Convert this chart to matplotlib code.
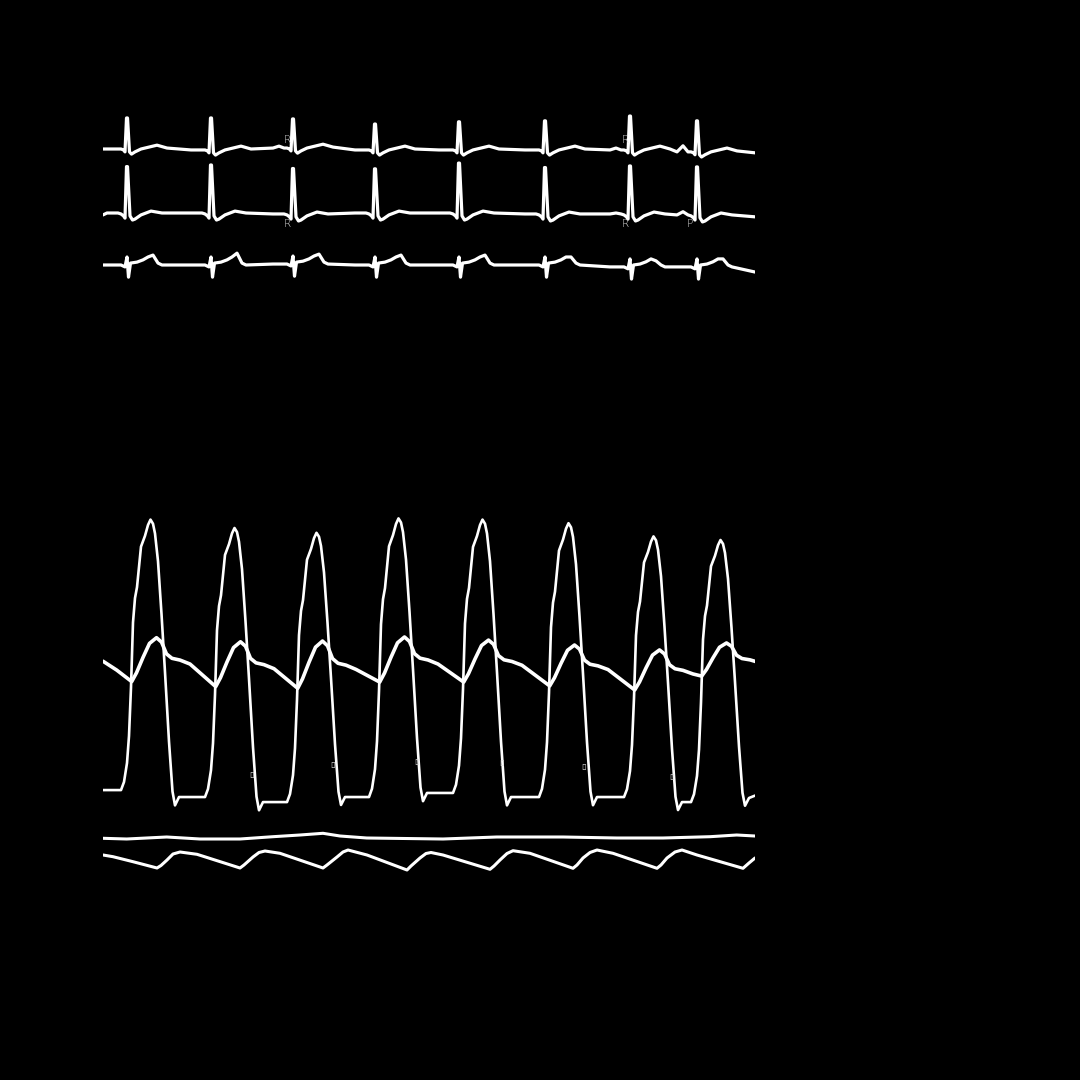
import matplotlib
matplotlib.use("Agg")
import matplotlib.pyplot as plt

# ---------------- data (time in s, ECG in mV, pressure in mmHg) ----------------
t_end = 6.52
r_times = [0.24, 1.08, 1.90, 2.72, 3.56, 4.42, 5.27, 5.94]

# ECG lead 1
ecg1_off = [-0.20, -0.14, -0.09, -0.06, -0.035, -0.02, -0.005, 0.005, 0.025, 0.045, 0.08, 0.14, 0.22, 0.30, 0.40]
ecg1_shape = [0.0, 0.0, 0.0, 0.0, -0.03, -0.09, 0.0, 0.0, -0.09, -0.16, -0.09, 0.0, 0.06, 0.12, 0.03]
ecg1_r = [0.97, 1.00, 0.91, 0.81, 0.88, 0.91, 1.06, 0.97]
ecg1_p = [0.0, 0.0, 0.06, 0.0, 0.0, 0.0, 0.06, 0.19]
ecg1_base = [0.0, -0.03, 0.03, -0.03, -0.03, -0.03, -0.03, -0.09]
ecg1_start, ecg1_stop = 0.0, -0.12

# ECG lead 2
ecg2_off = [-0.20, -0.14, -0.09, -0.06, -0.035, -0.02, -0.005, 0.005, 0.03, 0.055, 0.08, 0.14, 0.24, 0.35]
ecg2_shape = [0.0, 0.0, 0.0, -0.03, -0.09, -0.16, 0.0, 0.0, -0.09, -0.22, -0.19, -0.06, 0.06, 0.0]
ecg2_r = [1.45, 1.50, 1.42, 1.38, 1.56, 1.45, 1.50, 1.50]
ecg2_p = [0.0, 0.0, 0.0, 0.0, 0.0, 0.0, 0.03, 0.10]
ecg2_base = [0.0, 0.0, -0.03, 0.0, 0.0, -0.03, -0.03, -0.06]
ecg2_start, ecg2_stop = -0.06, -0.12

# ECG lead 3
ecg3_off = [-0.20, -0.06, -0.02, 0.0, 0.015, 0.035, 0.10, 0.16, 0.21, 0.26, 0.31, 0.35]
ecg3_shape = [0.0, 0.0, -0.06, 0.25, -0.38, 0.06, 0.09, 0.16, 0.25, 0.0, 0.06, 0.0]
ecg3_t = [0.31, 0.37, 0.31, 0.31, 0.31, 0.25, 0.19, 0.25]
ecg3_base = [0.0, 0.0, 0.03, 0.0, 0.0, 0.0, -0.06, -0.06]
ecg3_start, ecg3_stop = 0.0, -0.22

# Left-ventricular pressure (normalised beat shape + per-beat levels)
lv_off = [-0.06, -0.03, 0.0, 0.02, 0.04, 0.06, 0.08, 0.10, 0.14, 0.18, 0.21, 0.235,
          0.26, 0.28, 0.31, 0.345, 0.38, 0.42, 0.455, 0.48, 0.52]
lv_norm = [0.0, 0.03, 0.10, 0.2, 0.38, 0.62, 0.71, 0.75, 0.9, 0.94, 0.98, 1.0,
           0.985, 0.95, 0.85, 0.66, 0.45, 0.2, 0.02, -0.03, 0.0]
lv_peak = [121.0, 117.5, 115.5, 121.5, 121.0, 119.5, 114.0, 112.5]
lv_post = [5.4, 3.3, 5.4, 7.1, 5.4, 5.4, 3.3, 5.0]
lv_start, lv_stop = 8.3, 6.0

# Aortic pressure
ao_off = [0.047, 0.095, 0.16, 0.225, 0.295, 0.345, 0.395, 0.45, 0.53, 0.63]
ao_norm = [0.0, 0.2, 0.55, 0.87, 1.0, 0.9, 0.63, 0.53, 0.49, 0.40]
ao_min = [53.5, 51.4, 50.7, 53.3, 53.3, 51.7, 50.0, 55.8]
ao_peak = [71.8, 70.1, 70.4, 72.1, 70.8, 68.75, 66.7, 69.6]
ao_lead_t = [0.0, 0.137]
ao_lead_v = [62.0, 58.3]

# Small markers on the LV down-stroke
mark_t = [1.487, 2.30, 3.137, 3.987, 4.81, 5.687]
mark_v = [14.6, 18.75, 20.1, 19.6, 18.3, 13.9]

# Bottom channels (V)
flat_t = [0.0, 0.237, 0.637, 0.97, 1.37, 1.70, 1.97, 2.20, 2.37, 2.637, 3.40,
          3.937, 4.60, 5.137, 5.60, 6.07, 6.337, 6.52]
flat_v = [4.17, 4.1, 4.3, 4.1, 4.1, 4.33, 4.5, 4.67, 4.4, 4.2, 4.1,
          4.3, 4.3, 4.2, 4.2, 4.33, 4.5, 4.4]
saw_t = [0.00, 0.10, 0.30, 0.54, 0.58, 0.64, 0.70, 0.77, 0.94,
         1.37, 1.41, 1.50, 1.56, 1.62, 1.77,
         2.20, 2.24, 2.34, 2.40, 2.45, 2.64,
         3.04, 3.08, 3.17, 3.23, 3.28, 3.40,
         3.87, 3.91, 3.97, 4.04, 4.10, 4.27,
         4.70, 4.74, 4.80, 4.87, 4.94, 5.10,
         5.54, 5.58, 5.64, 5.72, 5.79, 5.94,
         6.40, 6.46, 6.52]
saw_v = [2.5, 2.33, 1.83, 1.2, 1.45, 2.0, 2.6, 2.8, 2.57,
         1.2, 1.5, 2.3, 2.75, 2.9, 2.67,
         1.2, 1.5, 2.3, 2.8, 3.0, 2.5,
         1.0, 1.4, 2.2, 2.65, 2.75, 2.5,
         1.07, 1.4, 2.0, 2.65, 2.93, 2.67,
         1.17, 1.5, 2.2, 2.75, 3.0, 2.67,
         1.17, 1.5, 2.2, 2.8, 3.0, 2.5,
         1.17, 1.7, 2.2]

labels = [("ecg1", 1.84, 0.28, "R"), ("ecg1", 5.22, 0.28, "R"),
          ("ecg2", 1.84, -0.34, "R"), ("ecg2", 5.22, -0.34, "R"),
          ("ecg2", 5.87, -0.34, "P")]


# ---------------- build traces ----------------
def build_ecg(offsets, shape, base, overrides, v0, v1):
    ts, vs = [0.0], [v0]
    for i, r in enumerate(r_times):
        s = list(shape)
        for idxs, arr in overrides:
            for idx in idxs:
                s[idx] = s[idx] + arr[i]
        for o, v in zip(offsets, s):
            ts.append(r + o)
            vs.append(base[i] + v)
    ts.append(t_end)
    vs.append(v1)
    return ts, vs


ecg1 = build_ecg(ecg1_off, ecg1_shape, ecg1_base,
                 [((6, 7), ecg1_r), ((1,), ecg1_p)], ecg1_start, ecg1_stop)
ecg2 = build_ecg(ecg2_off, ecg2_shape, ecg2_base,
                 [((6, 7), ecg2_r), ((1,), ecg2_p)], ecg2_start, ecg2_stop)
ecg3 = build_ecg(ecg3_off, ecg3_shape, ecg3_base,
                 [((9,), ecg3_t)], ecg3_start, ecg3_stop)

lv_t, lv_v = [0.0], [lv_start]
peak_off = lv_off[lv_norm.index(1.0)]
for i, r in enumerate(r_times):
    pre = lv_start if i == 0 else lv_post[i - 1]
    for o, n in zip(lv_off, lv_norm):
        b = pre if o <= peak_off else lv_post[i]
        lv_t.append(r + o)
        lv_v.append(b + n * (lv_peak[i] - b))
lv_t.append(t_end)
lv_v.append(lv_stop)

ao_t, ao_v = list(ao_lead_t), list(ao_lead_v)
for i, r in enumerate(r_times):
    for o, a in zip(ao_off, ao_norm):
        ao_t.append(r + o)
        ao_v.append(ao_min[i] + a * (ao_peak[i] - ao_min[i]))

# ---------------- figure ----------------
W = H = 1080
fig = plt.figure(figsize=(10.8, 10.8), dpi=100, facecolor="black")
X0, X1 = 103, 755


def trace_axes(top_px, bot_px, zero_px, px_per_unit):
    ax = fig.add_axes([X0 / W, 1 - bot_px / H, (X1 - X0) / W, (bot_px - top_px) / H])
    ax.set_xlim(0, t_end)
    ax.set_ylim((zero_px - bot_px) / px_per_unit, (zero_px - top_px) / px_per_unit)
    ax.set_facecolor("none")
    ax.axis("off")
    return ax


ax1 = trace_axes(100, 165, 149, 32)
ax2 = trace_axes(150, 235, 213, 32)
ax3 = trace_axes(240, 290, 265, 32)
axp = trace_axes(500, 825, 810, 2.4)
axb = trace_axes(822, 885, 880, 10)

kw = dict(color="white", solid_joinstyle="round", solid_capstyle="round")
ax1.plot(*ecg1, lw=2.3, **kw)
ax2.plot(*ecg2, lw=2.3, **kw)
ax3.plot(*ecg3, lw=2.3, **kw)
axp.plot(lv_t, lv_v, lw=1.9, **kw)
axp.plot(ao_t, ao_v, lw=2.6, **kw)
axb.plot(flat_t, flat_v, lw=2.2, **kw)
axb.plot(saw_t, saw_v, lw=2.2, **kw)

lab_axes = {"ecg1": ax1, "ecg2": ax2}
for key, tx, ty, s in labels:
    lab_axes[key].text(tx, ty, s, color="#e0e0e0", fontsize=7.5, ha="center", va="center",
                       fontweight="light")
for tx, ty in zip(mark_t, mark_v):
    axp.text(tx, ty, "\u25af", color="#e0e0e0", fontsize=6, ha="center", va="center")

fig.savefig("out.png", dpi=100, facecolor="black")
